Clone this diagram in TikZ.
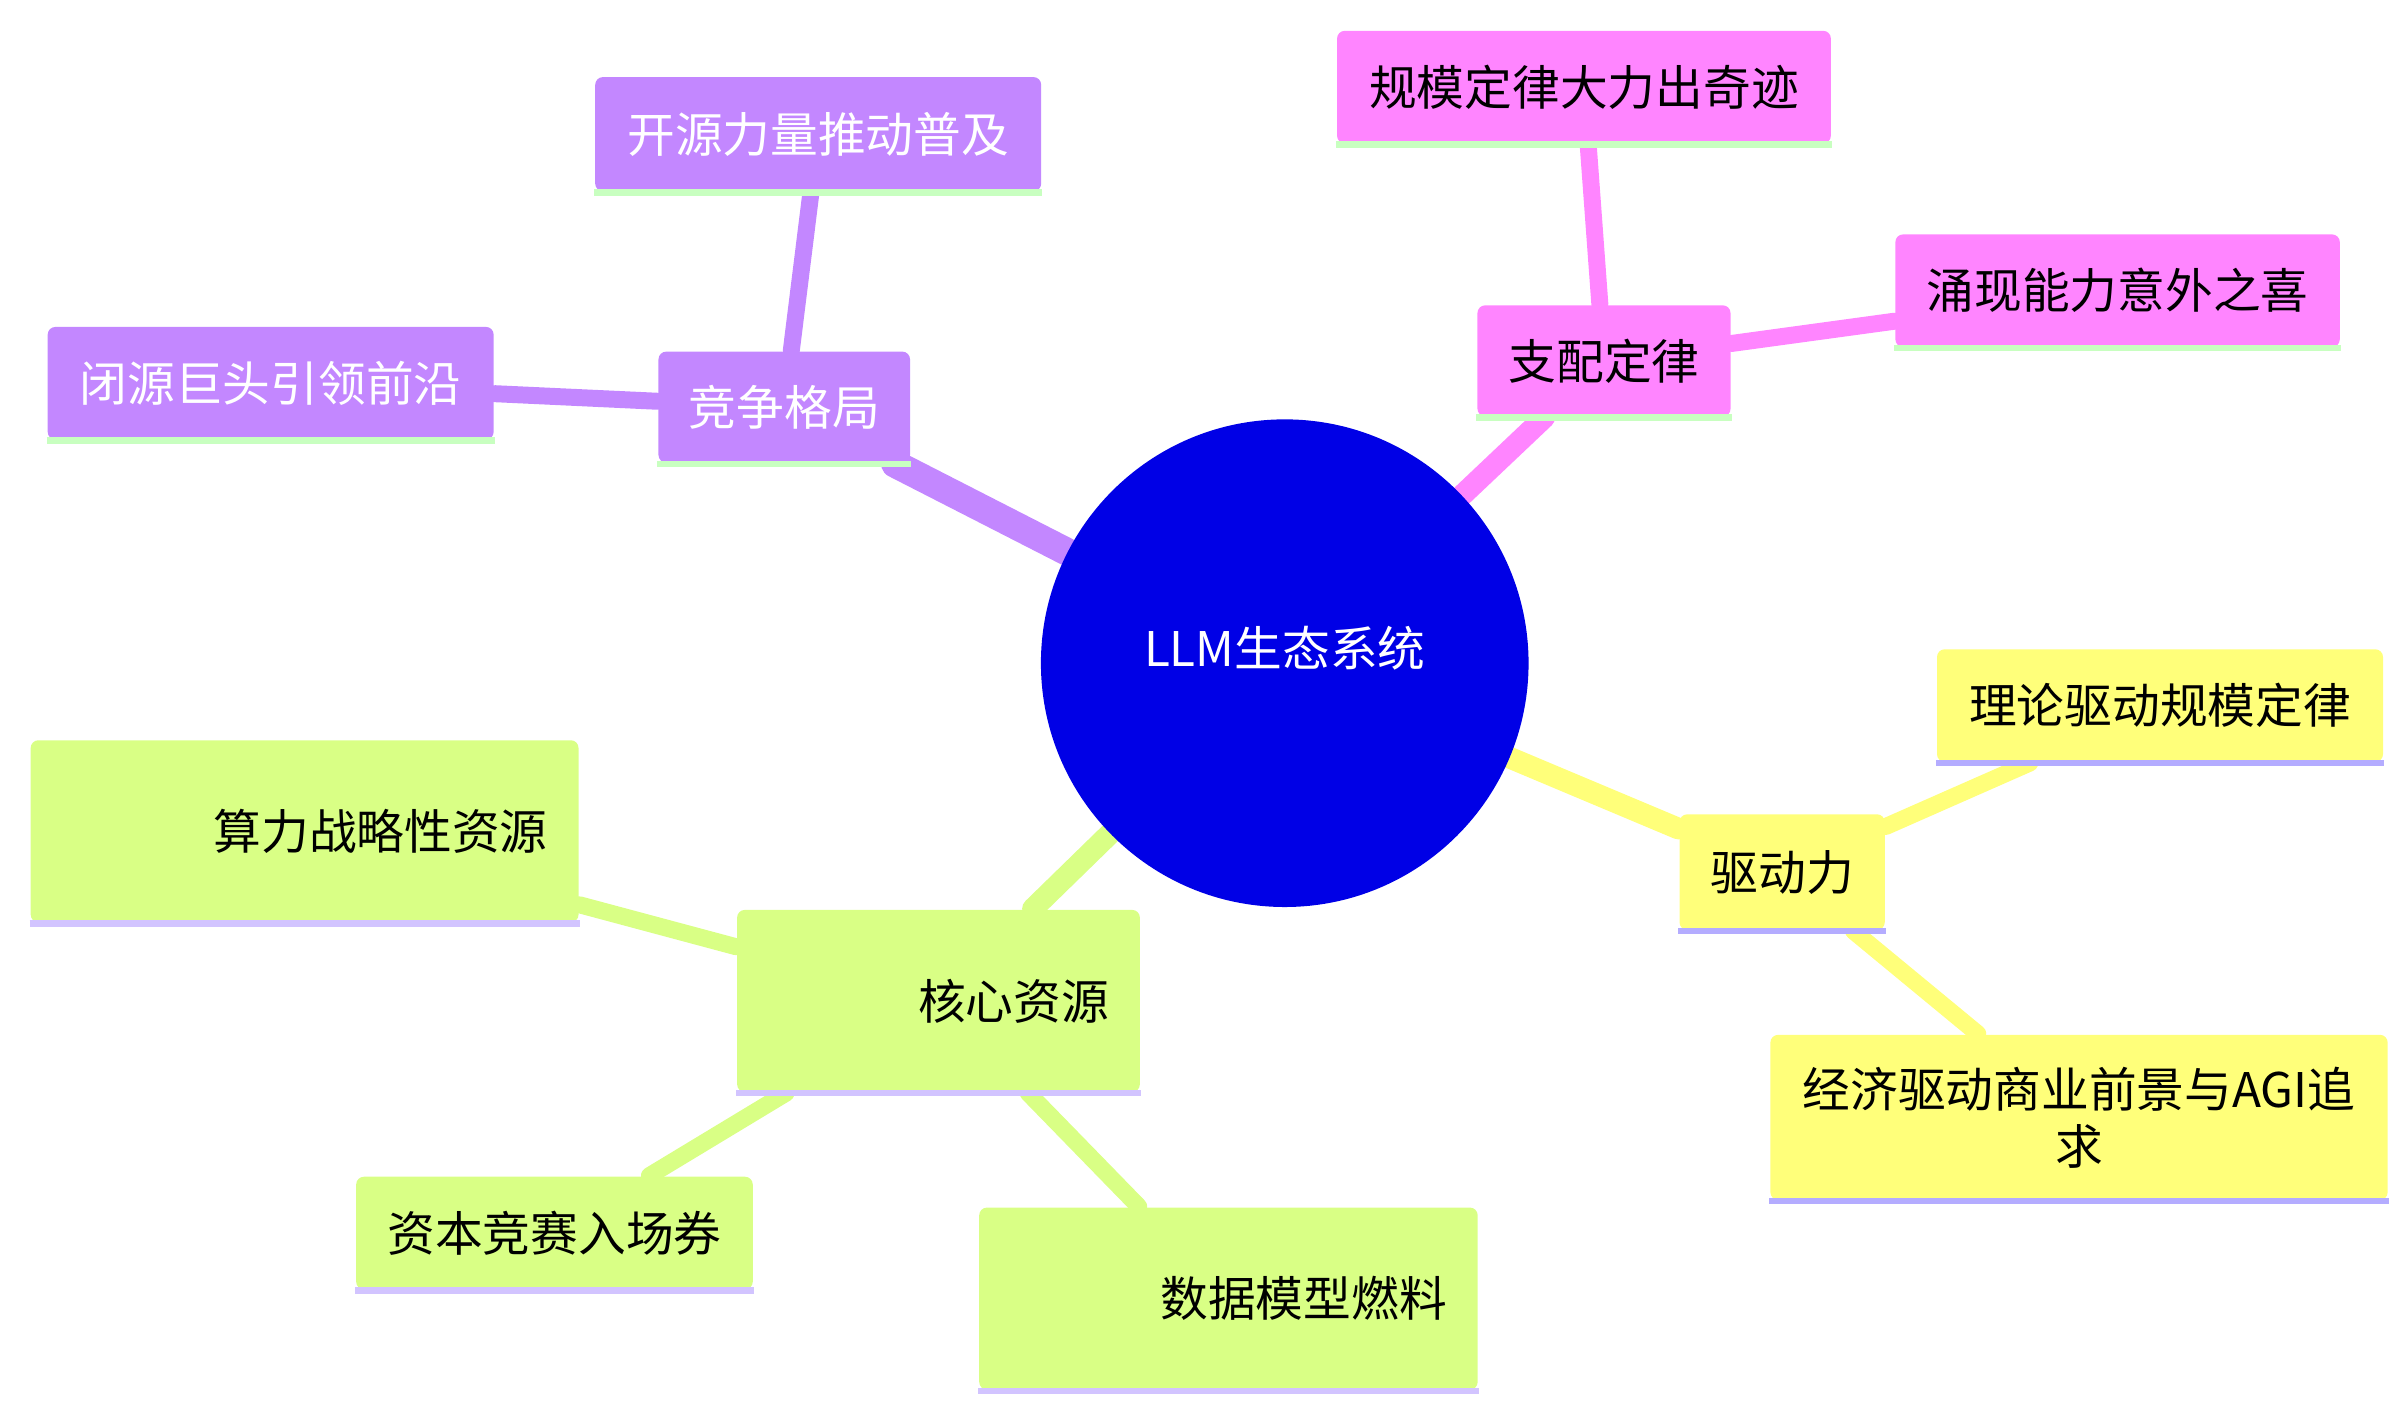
\documentclass[tikz,border=0pt]{standalone}
\usepackage{fontspec}
\setmainfont{Noto Sans CJK SC}
\usetikzlibrary{backgrounds}
\definecolor{cpurple}{HTML}{C387FF}
\definecolor{cpink}{HTML}{FF85FF}
\definecolor{cyellow}{HTML}{FFFF7A}
\definecolor{cgreen}{HTML}{D9FF85}
\definecolor{cblue}{HTML}{0000E6}
\definecolor{ulgreen}{HTML}{C8FFC0}
\definecolor{ullav}{HTML}{B4ACFF}
\definecolor{ullav2}{HTML}{D2C4FF}
\begin{document}
\begin{tikzpicture}[x=0.01cm,y=-0.01cm,font=\fontsize{8.8}{10.5}\selectfont]
		\tikzset{topic/.style={rectangle,rounded corners=0.05cm,inner sep=0pt}}
		\tikzset{link/.style={line cap=round}}
		\useasboundingbox (0,0) rectangle (1560,915.5);
		% root
		\node[circle,fill=cblue,minimum size=3.16cm,inner sep=0pt] (root) at (833,430) {};
		\node[text=white] (rootlabel) at (833,420) {LLM生态系统};
		% branches
		\node[topic,fill=cpurple,minimum width=1.63cm,minimum height=0.72cm,text=white] (comp) at (508.5,264) {竞争格局};
		\node[topic,fill=cpurple,minimum width=2.89cm,minimum height=0.74cm,text=white] (open) at (530.5,87) {开源力量推动普及};
		\node[topic,fill=cpurple,minimum width=2.89cm,minimum height=0.73cm,text=white] (closed) at (175.5,248.5) {闭源巨头引领前沿};
		\node[topic,fill=cpink,minimum width=1.64cm,minimum height=0.72cm] (law) at (1040,234) {支配定律};
		\node[topic,fill=cpink,minimum width=3.2cm,minimum height=0.73cm] (scale) at (1027,56.5) {规模定律大力出奇迹};
		\node[topic,fill=cpink,minimum width=2.88cm,minimum height=0.73cm] (emerge) at (1373,188.5) {涌现能力意外之喜};
		\node[topic,fill=cyellow,minimum width=1.33cm,minimum height=0.75cm] (drive) at (1155.5,565.5) {驱动力};
		\node[topic,fill=cyellow,minimum width=2.89cm,minimum height=0.73cm] (theory) at (1400.5,457.5) {理论驱动规模定律};
		\node[topic,fill=cyellow,minimum width=4cm,minimum height=1.07cm,align=center] (econ) at (1348,724.5) {经济驱动商业前景与AGI追\\求};
		\node[topic,fill=cgreen,minimum width=2.61cm,minimum height=1.18cm,text width=2.21cm,align=right] (core) at (608.5,649) {核心资源\\[0.25cm]};
		\node[topic,fill=cgreen,minimum width=3.55cm,minimum height=1.18cm,text width=3.15cm,align=right] (compute) at (197.5,539) {算力战略性资源\\[0.25cm]};
		\node[topic,fill=cgreen,minimum width=2.57cm,minimum height=0.73cm] (capital) at (359.5,799.5) {资本竞赛入场券};
		\node[topic,fill=cgreen,minimum width=3.23cm,minimum height=1.18cm,text width=2.83cm,align=right] (data) at (796.5,842) {数据模型燃料\\[0.2cm]};
		% underlines
		\foreach \n/\c in {comp/ulgreen,open/ulgreen,closed/ulgreen,law/ulgreen,scale/ulgreen,emerge/ulgreen,drive/ullav,theory/ullav,econ/ullav,core/ullav2,compute/ullav2,capital/ullav2,data/ullav2}
			\draw[\c,line width=1.2pt] (\n.south west) -- (\n.south east);
		% connectors
		\begin{scope}[on background layer]
			\draw[link,cpurple,line width=0.18cm] (root) -- (comp);
			\draw[link,cpurple,line width=0.11cm] (comp) -- (open);
			\draw[link,cpurple,line width=0.11cm] (comp) -- (closed);
			\draw[link,cpink,line width=0.14cm] (root) -- (law);
			\draw[link,cpink,line width=0.11cm] (law) -- (scale);
			\draw[link,cpink,line width=0.11cm] (law) -- (emerge);
			\draw[link,cyellow,line width=0.14cm] (root) -- (drive);
			\draw[link,cyellow,line width=0.11cm] (drive) -- (theory);
			\draw[link,cyellow,line width=0.11cm] (drive) -- (econ);
			\draw[link,cgreen,line width=0.14cm] (root) -- (core);
			\draw[link,cgreen,line width=0.11cm] (core) -- (compute);
			\draw[link,cgreen,line width=0.11cm] (core) -- (capital);
			\draw[link,cgreen,line width=0.11cm] (core) -- (data);
		\end{scope}
\end{tikzpicture}
\end{document}
